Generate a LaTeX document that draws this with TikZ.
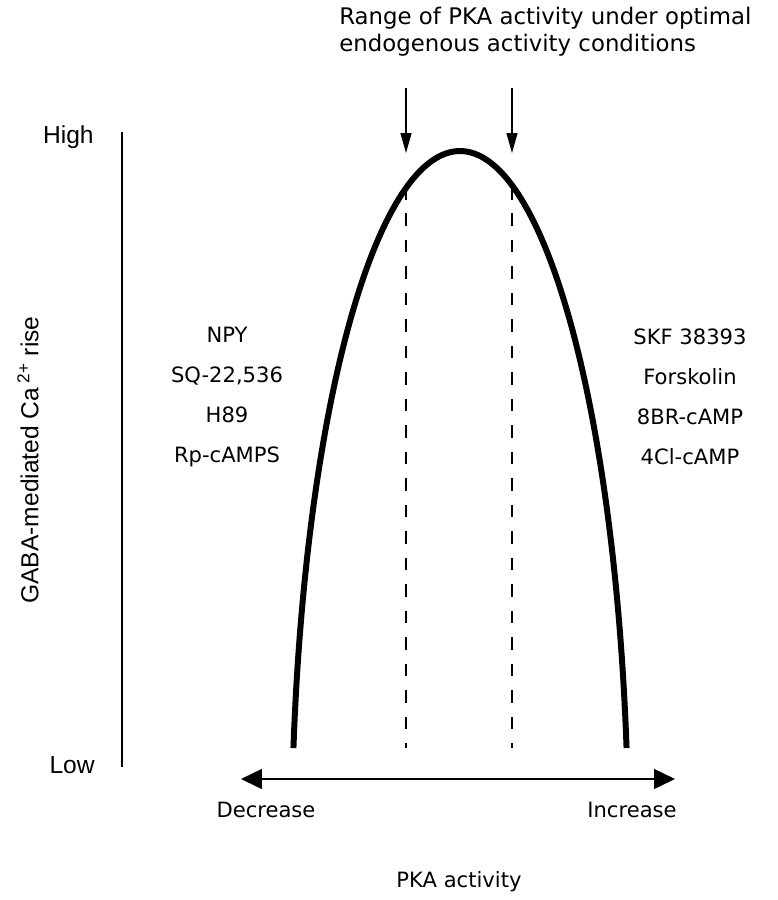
\documentclass[tikz,border=0pt]{standalone}
\usepackage{fontspec}
\setmainfont{DejaVu Sans}
\newfontfamily\helvfont{Liberation Sans}
\usetikzlibrary{arrows.meta, positioning}

\begin{document}
\begin{tikzpicture}[
  x=0.02cm, y=-0.02cm,
  textlabel/.style={font=\fontsize{12}{14}\selectfont, inner sep=0pt},
  druglist/.style={align=center, inner sep=0pt, font=\fontsize{12}{22.7}\selectfont},
  axislabel/.style={font=\helvfont\fontsize{14}{16}\selectfont, inner sep=0pt},
  bellcurve/.style={line width=3.4pt},
  rangeline/.style={line width=1.1pt, dash pattern=on 0.25cm off 0.28cm},
  pointer/.style={-{Triangle[length=0.4cm, width=0.22cm]}, line width=0.8pt},
  twoway/.style={{Triangle[length=0.42cm, width=0.4cm]}-{Triangle[length=0.42cm, width=0.4cm]}, line width=0.8pt}
]
  \useasboundingbox (0,0) rectangle (778,900);

  % Titel oben
  \node[anchor=west, align=left, inner sep=0pt, font=\fontsize{13}{15.3}\selectfont] (title) at (339,31.5)
    {Range of PKA activity under optimal\\endogenous activity conditions};

  % Pfeile auf den Bereich
  \coordinate (lowTop) at (406,88);
  \coordinate (lowTip) at (406,153);
  \coordinate (highTop) at (512,88);
  \coordinate (highTip) at (512,153);
  \draw[pointer] (lowTop) -- (lowTip);
  \draw[pointer] (highTop) -- (highTip);

  % y-Achse
  \coordinate (axTop) at (122,132);
  \coordinate (axBot) at (122,767);
  \draw[line width=1pt] (axTop) -- (axBot);
  \node[axislabel, anchor=base east] (high) at (94,143) {High};
  \node[axislabel, anchor=base east] (low) at (95,773) {Low};
  \node[axislabel, rotate=90] (ylab) at (28,460) {GABA-mediated Ca\,\textsuperscript{2+}\ rise};

  % Glockenkurve (Ellipsenbogen)
  \draw[bellcurve] plot[domain=8.46:171.54, samples=120, smooth]
    ({460+168.4*cos(\x)}, {851-700*sin(\x)});

  % gestrichelte Grenzen
  \coordinate (lowStart) at (406,187);
  \coordinate (lowEnd) at (406,748);
  \coordinate (highStart) at (512,187);
  \coordinate (highEnd) at (512,748);
  \draw[rangeline] (lowStart) -- (lowEnd);
  \draw[rangeline] (highStart) -- (highEnd);

  % Substanzen
  \node[druglist] (inhib) at (227,397) {NPY\\SQ-22,536\\H89\\Rp-cAMPS};
  \node[druglist] (activ) at (690,397) {SKF 38393\\Forskolin\\8BR-cAMP\\4Cl-cAMP};

  % x-Achse
  \coordinate (decEnd) at (241,779);
  \coordinate (incEnd) at (675,779);
  \draw[twoway] (decEnd) -- (incEnd);
  \node[textlabel] (dec) at (266,810) {Decrease};
  \node[textlabel] (inc) at (632,810) {Increase};
  \node[textlabel] (xlab) at (459,882) {PKA activity};

\end{tikzpicture}
\end{document}
